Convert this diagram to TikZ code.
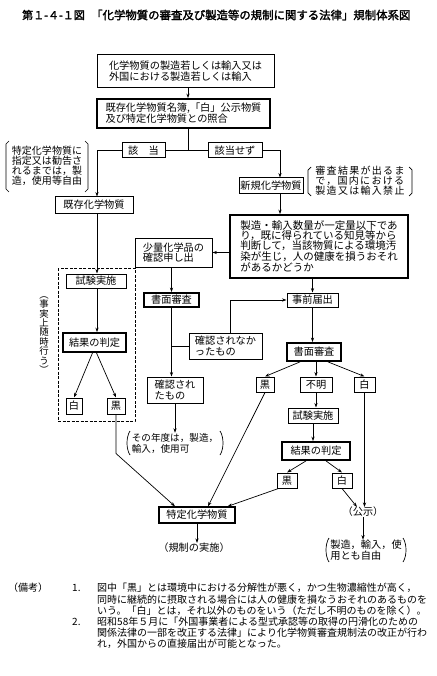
\documentclass[tikz,border=0pt]{standalone}
\usepackage{fontspec}
\newfontfamily\jp{Noto Sans CJK JP}
\newfontfamily\jpb[FakeBold=2]{Noto Sans CJK JP}
\newfontfamily\jpw[LetterSpace=13]{Noto Sans CJK JP}
\usetikzlibrary{arrows.meta}
\begin{document}
\begin{tikzpicture}[x=1pt,y=-1pt,
  every node/.style={font=\jp\fontsize{10.2}{10.8}\selectfont},
  box/.style={draw, line width=1pt, inner sep=0pt, align=left, fill=white},
  dbox/.style={box, line width=1.8pt},
  wh/.style 2 args={minimum width=#1pt, minimum height=#2pt},
  ln/.style={line width=0.7pt},
  arr/.style={ln, -{Stealth[length=4.5pt,width=3.2pt]}},
  txt/.style={inner sep=0pt, align=left}]
\useasboundingbox[fill=white] (0,0) rectangle (436,676);

% title
\node[txt, anchor=west, font=\jpb\fontsize{11}{11}\selectfont] (t1) at (22,15) {第１-４-１図};
\node[txt, anchor=west, font=\jpb\fontsize{11.4}{11}\selectfont] (t2) at (91,15) {「化学物質の審査及び製造等の規制に関する法律」規制体系図};

% dashed group
\draw[ln, dash pattern=on 3pt off 1.5pt] (58,268) rectangle (135,421);

% nodes
\node[box, wh={177}{33}] (b1) at (185.5,71.5) {化学物質の製造若しくは輸入又は\\外国における製造若しくは輸入};
\node[dbox, wh={173}{29}] (b2) at (183.5,113.5) {既存化学物質名簿,「白」公示物質\\及び特定化学物質との照合};
\node[box, wh={43}{15}] (gai) at (143.5,150.5) {該　当};
\node[box, wh={54}{15}] (hgai) at (235,150.5) {該当せず};
\node[box, wh={78}{16}] (kizon) at (94,205) {既存化学物質};
\node[box, wh={64}{16}] (shinki) at (271,186) {新規化学物質};
\node[dbox, wh={178}{63}, font=\jp\fontsize{10.5}{10}\selectfont] (big) at (319,246.5) {製造・輸入数量が一定量以下であ\\り，既に得られている知見等から\\判断して，当該物質による環境汚\\染が生じ，人の健康を損うおそれ\\があるかどうか};
\node[box, wh={77}{29}] (shoryo) at (173.5,252.5) {少量化学品の\\確認申し出};
\node[dbox, wh={55}{14}] (sh1) at (171.5,300) {書面審査};
\node[box, wh={56}{26}] (kak) at (175,390) {確認され\\たもの};
\node[box, wh={73}{26}] (kakn) at (225.5,346) {確認されなか\\ったもの};
\node[box, wh={51}{14}] (jiz) at (312.5,300) {事前届出};
\node[dbox, wh={54}{18}] (sh2) at (314,352) {書面審査};
\node[box, wh={18}{15}] (kuro2) at (265,384.5) {黒};
\node[box, wh={32}{15}] (fumei) at (316,384.5) {不明};
\node[box, wh={21}{15}] (shiro2) at (364.5,384.5) {白};
\node[box, wh={50}{15}] (shiken2) at (313,415.5) {試験実施};
\node[dbox, wh={68}{18}] (hantei2) at (316,451) {結果の判定};
\node[box, wh={20}{15}] (kuro3) at (287,480.5) {黒};
\node[box, wh={20}{15}] (shiro3) at (342,480.5) {白};
\node[box, line width=1.3pt, wh={76}{16}] (tokutei) at (197,515) {特定化学物質};
\node[box, wh={60}{14}] (shiken1) at (96,281) {試験実施};
\node[dbox, wh={63}{19}] (hantei1) at (94.5,342.5) {結果の判定};
\node[box, wh={16}{16}] (shiro1) at (74,406) {白};
\node[box, wh={18}{16}] (kuro1) at (116,406) {黒};

% free texts
\node[txt, font=\jp\fontsize{10}{10}\selectfont] (n1) at (47,166) {特定化学物質に\\指定又は勧告さ\\れるまでは，製\\造，使用等自由};
\draw[ln] (9,141) -- (6,144) -- (6,189) -- (9,192);
\draw[ln] (85,141) -- (88,144) -- (88,189) -- (85,192);
\node[txt, font=\jpw\fontsize{10}{9.3}\selectfont] (n2) at (360,181) {審査結果が出るま\\で，国内における\\製造又は輸入禁止};
\draw[ln] (311,167) -- (308,170) -- (308,193) -- (311,196);
\draw[ln] (409,167) -- (412,170) -- (412,193) -- (409,196);
\node[txt, align=center, font=\jp\fontsize{9.4}{9.4}\selectfont] (vt) at (44,335) {︵\\事\\実\\上\\随\\時\\行\\う\\︶};
\node[txt, font=\jp\fontsize{9.6}{11}\selectfont] (nendo) at (175,443) {その年度は，製造，\\輸入，使用可};
\draw[ln] (130,431) .. controls (126,437) and (126,449) .. (130,455);
\draw[ln] (220,431) .. controls (224,437) and (224,449) .. (220,455);
\node[txt] (koji) at (363,512) {（公示）};
\node[txt] (jiyu) at (366,550) {製造，輸入，使\\用とも自由};
\draw[ln] (329,538) .. controls (325,544) and (325,556) .. (329,562);
\draw[ln] (403,538) .. controls (407,544) and (407,556) .. (403,562);
\node[txt] (kisei) at (194,548) {（規制の実施）};

% connectors
\coordinate (j0) at (188,150.5);
\coordinate (jl) at (97,150.5);
\coordinate (jr) at (280,150.5);
\draw[arr] ([xshift=2.5pt]b1.south) -- ([xshift=2.5pt]b1.south |- b2.north);
\draw[ln] (b2.south -| j0) -- (j0);
\draw[ln] (gai.east) -- (hgai.west);
\draw[arr] (gai.west) -- (jl) -- (jl |- kizon.north);
\draw[arr] (hgai.east) -- (jr) -- (jr |- shinki.north);
\draw[arr] (shinki.south -| jr) -- (big.north -| jr);
\draw[arr] (big.west |- shoryo) -- (shoryo.east);
\draw[arr] (shoryo.south -| sh1.north) -- (sh1.north);
\draw[arr] (sh1.south) -- (sh1.south |- kak.north);
\draw[ln] (sh1.south |- kakn.west) -- (kakn.west);
\draw[arr] ([xshift=4.5pt]kakn.north) |- (jiz.west);
\draw[arr] (big.south -| jiz.north) -- (jiz.north);
\draw[arr] (jiz.south) -- (jiz.south |- sh2.north);
\draw[arr] ([xshift=-14pt]sh2.south) -- (kuro2.north);
\draw[arr] (sh2.south -| fumei.north) -- (fumei.north);
\draw[arr] ([xshift=14pt]sh2.south) -- (shiro2.north);
\draw[arr] (fumei.south) -- (fumei.south |- shiken2.north);
\draw[arr] (shiken2.south) -- (shiken2.south |- hantei2.north);
\draw[arr] ([xshift=-10pt]hantei2.south) -- (kuro3.north);
\draw[arr] ([xshift=10pt]hantei2.south) -- (shiro3.north);
\draw[arr] ([xshift=2pt]kuro3.south west) -- ([xshift=-8pt]tokutei.north east);
\draw[arr] (kuro2.south) -- ([xshift=11pt]tokutei.north);
\draw[arr] (kuro1.south) -- ++(0,39) -- ([xshift=-22pt]tokutei.north);
\draw[arr] (kizon.south -| jl) -- (shiken1.north -| jl);
\draw[arr] (shiken1.south -| jl) -- (hantei1.north -| jl);
\draw[arr] ([xshift=-2pt]hantei1.south) -- (shiro1.north);
\draw[arr] ([xshift=2pt]hantei1.south) -- (kuro1.north);
\draw[arr] (kak.south) -- (kak.south |- nendo.north);
\draw[arr] (shiro3.south) -- ([xshift=-6pt]koji.north);
\draw[arr] (shiro2.south) -- (shiro2.south |- koji.north);
\draw[arr] (koji.south) -- (koji.south |- jiyu.north);
\draw[arr] (tokutei.south) -- (tokutei.south |- kisei.north);

% remarks
\begin{scope}[every node/.style={txt, anchor=west, font=\jp\fontsize{10}{10}\selectfont}]
\node (r0) at (8,588) {（備考）};
\node (r1n) at (72,588) {1.};
\node (r1a) at (97,588) {図中「黒」とは環境中における分解性が悪く，かつ生物濃縮性が高く，};
\node (r1b) at (97,600) {同時に継続的に摂取される場合には人の健康を損なうおそれのあるものを};
\node (r1c) at (97,611) {いう。「白」とは，それ以外のものをいう（ただし不明のものを除く）。};
\node (r2n) at (72,622) {2.};
\node (r2a) at (97,622) {昭和58年５月に「外国事業者による型式承認等の取得の円滑化のための};
\node (r2b) at (97,633) {関係法律の一部を改正する法律」により化学物質審査規制法の改正が行わ};
\node (r2c) at (97,644) {れ，外国からの直接届出が可能となった。};
\end{scope}
\end{tikzpicture}
\end{document}
